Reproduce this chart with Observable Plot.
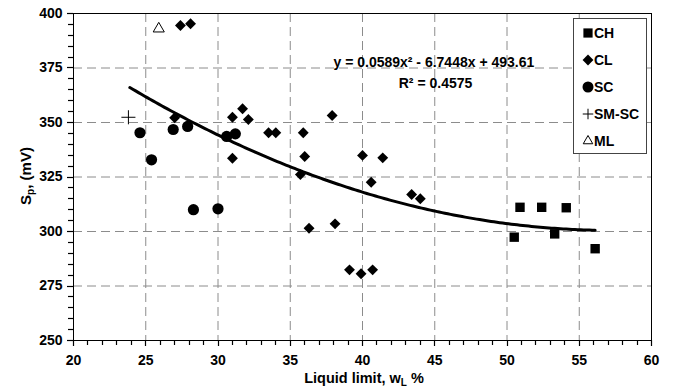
<!DOCTYPE html>
<html>
<head>
<meta charset="utf-8">
<script src="https://cdn.jsdelivr.net/npm/d3@7"></script>
<script src="https://cdn.jsdelivr.net/npm/@observablehq/plot@0.6"></script>
<style>
  html, body { margin: 0; padding: 0; background: #fff; }
  #chart { width: 674px; height: 388px; position: relative; }
</style>
</head>
<body>
<div id="chart"></div>
<script>
// ---- data ----
const categories = ["CH", "CL", "SC", "SM-SC", "ML"];
const chX = [50.9, 52.4, 54.1, 50.5, 53.3, 56.1];
const chY = [311.1, 311.1, 310.9, 297.4, 298.9, 292.1];
const clX = [27.4, 28.1, 27.0, 31.0, 31.7, 32.1, 31.0, 33.5, 34.0, 35.9, 37.9, 36.0, 35.7, 40.0, 41.4, 40.6, 43.4, 44.0, 36.3, 38.1, 39.1, 39.9, 40.7];
const clY = [394.5, 395.3, 352.2, 352.4, 356.3, 351.4, 333.6, 345.3, 345.3, 345.3, 353.2, 334.4, 326.1, 334.9, 333.8, 322.6, 317.0, 315.0, 301.5, 303.5, 282.4, 280.6, 282.4];
const scX = [24.6, 25.4, 26.9, 27.9, 30.6, 31.2, 28.3, 30.0];
const scY = [345.3, 332.9, 346.8, 348.2, 343.6, 344.8, 310.0, 310.4];
const smscX = [23.8];
const smscY = [352.4];
const mlX = [25.9];
const mlY = [393.0];
// trend line shown on the chart: y = a x^2 + b x + c
const trendCoef = [0.0589, -6.7448, 493.61];
const trendRange = [23.9, 56.1];
const eqText = "y = 0.0589x² - 6.7448x + 493.61";
const r2Text = "R² = 0.4575";
const xTicks = [20, 25, 30, 35, 40, 45, 50, 55, 60];
const yTicks = [250, 275, 300, 325, 350, 375, 400];
const xMinor = d3.range(20, 61, 1);
const yMinor = d3.range(250, 401, 5);

const zip = (xs, ys) => xs.map((x, i) => ({x, y: ys[i]}));
const trend = d3.range(trendRange[0], trendRange[1] + 1e-9, 0.2).map(x => ({x, y: trendCoef[0]*x*x + trendCoef[1]*x + trendCoef[2]}));

const FONT = "'Liberation Sans', Arial, sans-serif";
const grid = {stroke: "#8c8c8c", strokeOpacity: 1, strokeDasharray: "9,5", strokeWidth: 1};

const plot = Plot.plot({
  width: 674, height: 388,
  marginLeft: 73, marginRight: 23, marginTop: 13, marginBottom: 48,
  style: {fontFamily: FONT, fontSize: "14px", fontWeight: "bold", color: "#000", background: "#fff"},
  x: {domain: [20, 60], label: null},
  y: {domain: [250, 400], label: null},
  marks: [
    Plot.gridX(xTicks.filter(t => t > 20 && t < 60), grid),
    Plot.gridY(yTicks.filter(t => t > 250 && t < 400), grid),
    Plot.frame({stroke: "#000", strokeWidth: 1}),
    Plot.axisX(xTicks, {tickSize: 0, tickPadding: 15, tickFormat: d3.format("d"), fontSize: 14}),
    Plot.axisY(yTicks, {tickSize: 0, tickPadding: 11, tickFormat: d3.format("d"), fontSize: 14}),
    Plot.line(trend, {x: "x", y: "y", stroke: "#000", strokeWidth: 3}),
    Plot.dot(zip(chX, chY), {x: "x", y: "y", symbol: "square", r: 5.3, fill: "#000"}),
    Plot.dot(zip(clX, clY), {x: "x", y: "y", symbol: "diamond2", r: 4.9, fill: "#000"}),
    Plot.dot(zip(scX, scY), {x: "x", y: "y", symbol: "circle", r: 5.6, fill: "#000"}),
    Plot.dot(zip(smscX, smscY), {x: "x", y: "y", symbol: "plus", r: 4.6, stroke: "#000", strokeWidth: 1, fill: "none"}),
    Plot.dot(zip(mlX, mlY), {x: "x", y: "y", symbol: "triangle2", r: 5.3, stroke: "#000", strokeWidth: 1, fill: "none"}),
    Plot.text([eqText], {x: 44.94, y: 377.5, text: d => d, textAnchor: "middle", fontSize: 14, fontWeight: "bold", fill: "#000"}),
    Plot.text([r2Text], {x: 47.6, y: 368, text: d => d, textAnchor: "end", fontSize: 14, fontWeight: "bold", fill: "#000"})
  ]
});

const svg = d3.select(plot);
const sx = plot.scale("x"), sy = plot.scale("y");
const x0 = sx.apply(20), yBase = sy.apply(250);
// tick marks (through the plot's own scales)
const tg = svg.append("g");
xMinor.forEach(v => {
  const px = Math.round(sx.apply(v)) + 0.5;
  tg.append("line").attr("x1", px).attr("x2", px).attr("y1", yBase).attr("y2", yBase + (v % 5 === 0 ? 6 : 5))
    .attr("stroke", "#000").attr("stroke-width", 1.2);
});
yMinor.forEach(v => {
  const py = Math.round(sy.apply(v)) + 0.5;
  tg.append("line").attr("y1", py).attr("y2", py).attr("x1", x0).attr("x2", x0 - (v % 25 === 0 ? 6 : 5))
    .attr("stroke", "#000").attr("stroke-width", 1.2);
});

// axis titles
svg.append("text")
  .attr("x", 364).attr("y", 383)
  .attr("text-anchor", "middle")
  .style("font-family", FONT).style("font-size", "14.5px").style("font-weight", "bold")
  .call(t => {
    t.append("tspan").text("Liquid limit, w");
    t.append("tspan").attr("dy", 3).style("font-size", "10px").text("L");
    t.append("tspan").attr("dy", -3).text(" %");
  });
svg.append("text")
  .attr("transform", "translate(31,176) rotate(-90)")
  .attr("text-anchor", "middle")
  .style("font-family", FONT).style("font-size", "15px").style("font-weight", "bold")
  .call(t => {
    t.append("tspan").text("S");
    t.append("tspan").attr("dy", 3).style("font-size", "10px").text("p");
    t.append("tspan").attr("dy", -3).text(", (mV)");
  });

// legend
const lg = svg.append("g").attr("transform", "translate(573,18)");
lg.append("rect").attr("x", 0.5).attr("y", 0.5).attr("width", 73).attr("height", 135).attr("fill", "#fff").attr("stroke", "#444").attr("stroke-width", 1);
const legSym = [
  {sym: d3.symbolSquare, size: 85, fill: "#000", stroke: "none"},
  {sym: d3.symbolDiamond2, size: 75, fill: "#000", stroke: "none"},
  {sym: d3.symbolCircle, size: 95, fill: "#000", stroke: "none"},
  {sym: d3.symbolPlus, size: 38, fill: "none", stroke: "#000"},
  {sym: d3.symbolTriangle2, size: 65, fill: "none", stroke: "#000"}
];
categories.forEach((c, i) => {
  const y = 15 + i * 27;
  const s = legSym[i];
  lg.append("path").attr("transform", `translate(15,${y})`)
    .attr("d", d3.symbol(s.sym, s.size)()).attr("fill", s.fill).attr("stroke", s.stroke).attr("stroke-width", 1);
  lg.append("text").attr("x", 21).attr("y", y).attr("dy", "0.36em")
    .attr("text-anchor", "start").attr("fill", "#000")
    .style("font-family", FONT).style("font-size", "14px").style("font-weight", "bold").text(c);
});

document.getElementById("chart").appendChild(plot);
</script>
</body>
</html>
